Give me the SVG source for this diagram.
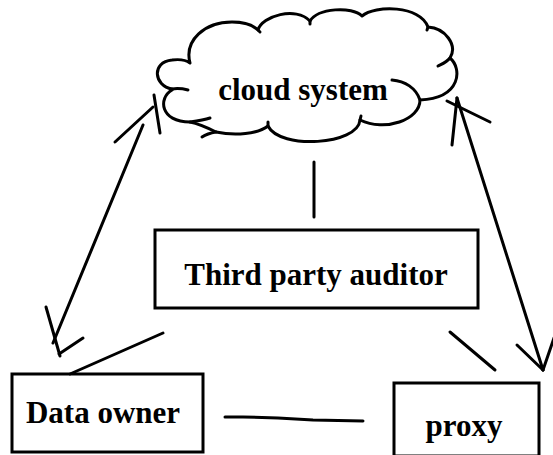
<svg xmlns="http://www.w3.org/2000/svg" width="553" height="455" viewBox="0 0 553 455">
<style>
.ln{stroke:#000;stroke-width:3;fill:none;stroke-linecap:round;stroke-linejoin:round}
.box{fill:#fff;stroke:#000;stroke-width:3}
.lbl{font-family:"Liberation Serif","Times New Roman",serif;font-weight:bold;font-size:31px;fill:#000;text-anchor:middle}
</style>
<rect width="553" height="455" fill="#fff"/>
<g id="cloud">
<path class="ln" d="M172,89 C154,86 151,62 172,60 C180,59 186,60 190,63 C184,40 205,22 232,22 C246,22 254,26 258,30 C262,16 296,6 310,21 C318,8 352,6 362,16 C375,5 420,5 428,27 C445,28 458,45 450,58 C462,68 462,98 420,100 C420,120 385,132 360,120 C358,145 280,150 268,126 C258,134 235,136 216,132 C208,128 200,124 190,122 C160,122 158,98 172,90"/>
<path class="ln" d="M172,89 C178,88 184,89 188,90"/>
<path class="ln" d="M190,122 C197,121 204,120 210,118"/>
<path class="ln" d="M216,132 C210,133 205,135 202,137"/>
<path class="ln" d="M450,58 C447,62 442,64 438,66"/>
<path class="ln" d="M392,80 C405,81 416,88 420,100"/>
<path class="ln" d="M360,120 L361,116"/>
<path class="ln" d="M268,126 L268,122"/>
<path class="ln" d="M428,27 L427,30"/>
<path class="ln" d="M310,21 L310,24"/>
<path class="ln" d="M258,30 L260,32"/>
<text class="lbl" x="303" y="100">cloud system</text>
</g>
<g id="tpa">
<rect class="box" x="155" y="230" width="323" height="78"/>
<text class="lbl" x="316" y="285">Third party auditor</text>
</g>
<g id="owner">
<rect class="box" x="12" y="374" width="191" height="78"/>
<text class="lbl" x="103" y="423">Data owner</text>
</g>
<g id="proxy">
<rect class="box" x="394" y="383" width="145" height="73"/>
<text class="lbl" x="464" y="436">proxy</text>
</g>
<g id="connectors">
<line class="ln" x1="314" y1="162" x2="314" y2="217"/>
<line class="ln" x1="163" y1="333" x2="70" y2="374"/>
<line class="ln" x1="450" y1="332" x2="495" y2="370"/>
<path class="ln" d="M225,417 L243,417 L278,418 L313,420 L363,421"/>
<line class="ln" x1="143" y1="125" x2="53" y2="343"/>
<line class="ln" x1="115" y1="142" x2="153" y2="107"/>
<line class="ln" x1="154" y1="95" x2="160" y2="133"/>
<line class="ln" x1="46" y1="307" x2="60" y2="356"/>
<line class="ln" x1="59" y1="354" x2="83" y2="338"/>
<line class="ln" x1="457" y1="98" x2="543" y2="370"/>
<line class="ln" x1="447" y1="101" x2="490" y2="122"/>
<line class="ln" x1="457" y1="98" x2="452" y2="145"/>
<line class="ln" x1="517" y1="345" x2="543" y2="370"/>
<line class="ln" x1="554" y1="338" x2="543" y2="370"/>
</g>
</svg>
